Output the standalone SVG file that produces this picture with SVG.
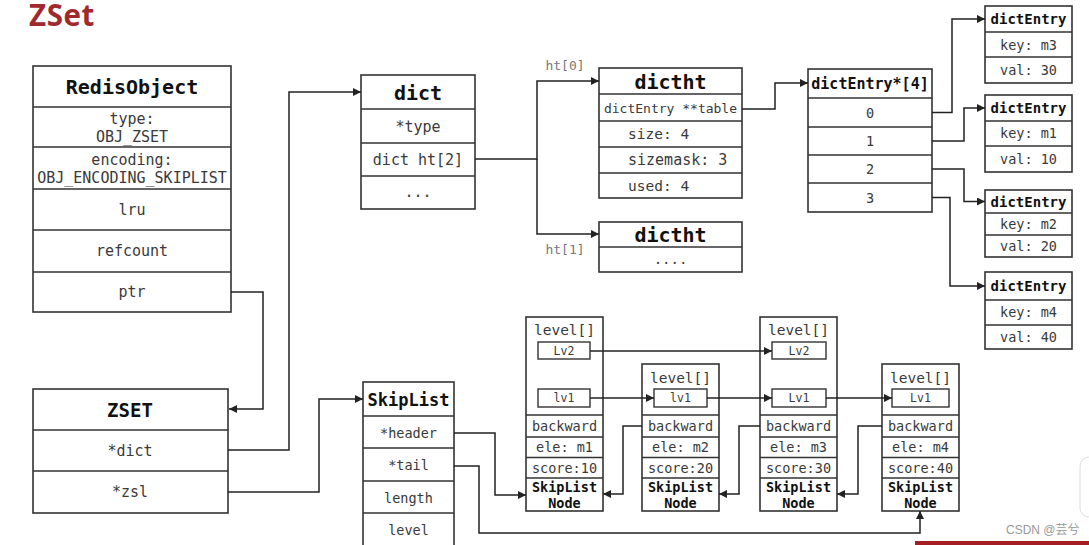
<svg xmlns="http://www.w3.org/2000/svg" width="1089" height="545" viewBox="0 0 1089 545">
<defs>
<marker id="arr" viewBox="0 0 8 8" refX="8" refY="4" markerWidth="8" markerHeight="8" markerUnits="userSpaceOnUse" orient="auto">
<path d="M0,0 L8,4 L0,8 z" fill="#222"/>
</marker>
<style>
.box{fill:#fff;stroke:#333;stroke-width:1.6}
.sep{stroke:#333;stroke-width:1.6;fill:none}
.lv{fill:#fff;stroke:#333;stroke-width:1.4}
.t{font-family:"DejaVu Sans Mono","Liberation Mono",monospace;fill:#3a3a3a;text-anchor:middle}
.l{font-family:"DejaVu Sans Mono","Liberation Mono",monospace;fill:#3a3a3a;text-anchor:start}
.h{font-family:"DejaVu Sans Mono","Liberation Mono",monospace;fill:#111;font-weight:bold;text-anchor:middle}
.c{fill:none;stroke:#222;stroke-width:1.5}
.g{font-family:"DejaVu Sans Mono","Liberation Mono",monospace;fill:#777;font-size:13px;text-anchor:middle}
</style>
</defs>
<rect width="1089" height="545" fill="#fff"/>
<text x="29" y="26" font-family="'Open Sans','Liberation Sans',sans-serif" font-weight="bold" font-size="29.5" letter-spacing="0.6" fill="#a0292d">ZSet</text>

<g id="redisobject">
<rect class="box" x="33" y="66" width="198" height="246"/>
<path class="sep" d="M33,107H231M33,147H231M33,189H231M33,230H231M33,272H231"/>
<text class="h" x="132" y="93.5" font-size="20">RedisObject</text>
<text class="t" x="132" y="124" font-size="15">type:</text>
<text class="t" x="132" y="141.5" font-size="15">OBJ_ZSET</text>
<text class="t" x="132" y="165" font-size="15">encoding:</text>
<text class="t" x="132" y="183" font-size="15">OBJ_ENCODING_SKIPLIST</text>
<text class="t" x="132" y="215" font-size="15">lru</text>
<text class="t" x="132" y="256" font-size="15">refcount</text>
<text class="t" x="132" y="297" font-size="15">ptr</text>
</g>

<g id="zset">
<rect class="box" x="33" y="389" width="195" height="124"/>
<path class="sep" d="M33,430H228M33,471H228"/>
<text class="h" x="130" y="417" font-size="19">ZSET</text>
<text class="t" x="130" y="456" font-size="15">*dict</text>
<text class="t" x="130" y="497" font-size="15">*zsl</text>
</g>

<g id="skiplist">
<rect class="box" x="363" y="382" width="91" height="190"/>
<path class="sep" d="M363,416H454M363,448H454M363,481H454M363,513H454"/>
<text class="h" x="408.5" y="406" font-size="17">SkipList</text>
<text class="t" x="408.5" y="437.5" font-size="13.5">*header</text>
<text class="t" x="408.5" y="470" font-size="13.5">*tail</text>
<text class="t" x="408.5" y="502.5" font-size="13.5">length</text>
<text class="t" x="408.5" y="534.5" font-size="13.5">level</text>
</g>

<g id="dict">
<rect class="box" x="361" y="75" width="114" height="134"/>
<path class="sep" d="M361,109H475M361,143H475M361,176H475"/>
<text class="h" x="418" y="99.5" font-size="20">dict</text>
<text class="t" x="418" y="132" font-size="15">*type</text>
<text class="t" x="418" y="164.5" font-size="15">dict ht[2]</text>
<text class="t" x="418" y="197" font-size="15">...</text>
</g>

<g id="dictht0">
<rect class="box" x="599" y="68" width="143" height="130"/>
<path class="sep" d="M599,94H742M599,121H742M599,147H742M599,173H742"/>
<text class="h" x="670.5" y="88.5" font-size="20">dictht</text>
<text class="t" x="670.5" y="112.5" font-size="13">dictEntry **table</text>
<text class="l" x="628" y="139" font-size="14.5">size: 4</text>
<text class="l" x="628" y="165" font-size="15">sizemask: 3</text>
<text class="l" x="628" y="191" font-size="14.5">used: 4</text>
</g>

<g id="dictht1">
<rect class="box" x="599" y="222" width="143" height="50"/>
<path class="sep" d="M599,247H742"/>
<text class="h" x="670.5" y="241.5" font-size="20">dictht</text>
<text class="t" x="670.5" y="264" font-size="14">....</text>
</g>

<g id="labels">
<text class="g" x="565" y="70">ht[0]</text>
<text class="g" x="565" y="254">ht[1]</text>
</g>

<g id="dictentryarray">
<rect class="box" x="808" y="69" width="124" height="143"/>
<path class="sep" d="M808,98H932M808,127H932M808,155H932M808,183H932"/>
<text class="h" x="870" y="89" font-size="15">dictEntry*[4]</text>
<text class="t" x="870" y="117.5" font-size="13.5">0</text>
<text class="t" x="870" y="146" font-size="13.5">1</text>
<text class="t" x="870" y="174" font-size="13.5">2</text>
<text class="t" x="870" y="202.5" font-size="13.5">3</text>
</g>

<g id="entry-m3">
<rect class="box" x="985" y="6" width="87" height="77"/>
<path class="sep" d="M985,32H1072M985,57H1072"/>
<text class="h" x="1028.5" y="24" font-size="14">dictEntry</text>
<text class="t" x="1028.5" y="50" font-size="13.5">key: m3</text>
<text class="t" x="1028.5" y="75" font-size="13.5">val: 30</text>
</g>
<g id="entry-m1">
<rect class="box" x="985" y="95" width="87" height="77"/>
<path class="sep" d="M985,121H1072M985,146H1072"/>
<text class="h" x="1028.5" y="113" font-size="14">dictEntry</text>
<text class="t" x="1028.5" y="138" font-size="13.5">key: m1</text>
<text class="t" x="1028.5" y="163.5" font-size="13.5">val: 10</text>
</g>
<g id="entry-m2">
<rect class="box" x="985" y="190" width="87" height="67"/>
<path class="sep" d="M985,213H1072M985,235H1072"/>
<text class="h" x="1028.5" y="206.5" font-size="14">dictEntry</text>
<text class="t" x="1028.5" y="228.5" font-size="13.5">key: m2</text>
<text class="t" x="1028.5" y="250.5" font-size="13.5">val: 20</text>
</g>
<g id="entry-m4">
<rect class="box" x="985" y="272" width="87" height="77"/>
<path class="sep" d="M985,300H1072M985,325H1072"/>
<text class="h" x="1028.5" y="291" font-size="14">dictEntry</text>
<text class="t" x="1028.5" y="317" font-size="13.5">key: m4</text>
<text class="t" x="1028.5" y="341.5" font-size="13.5">val: 40</text>
</g>

<g id="node-m1">
<rect class="box" x="526" y="317" width="77" height="194"/>
<path class="sep" d="M526,415H603M526,437H603M526,457.5H603M526,478H603"/>
<text class="t" x="564.5" y="335" font-size="14.5">level[]</text>
<rect class="lv" x="538" y="342" width="52" height="17"/>
<text class="t" x="564" y="354.5" font-size="11.5">Lv2</text>
<rect class="lv" x="538" y="389" width="52" height="18"/>
<text class="t" x="564" y="402" font-size="11.5">lv1</text>
<text class="t" x="564.5" y="430.5" font-size="13.5">backward</text>
<text class="t" x="564.5" y="452" font-size="13.5">ele: m1</text>
<text class="t" x="564.5" y="472.5" font-size="13.5">score:10</text>
<text class="h" x="564.5" y="491.5" font-size="13.5">SkipList</text>
<text class="h" x="564.5" y="507.5" font-size="13.5">Node</text>
</g>

<g id="node-m2">
<rect class="box" x="642" y="364" width="77" height="147"/>
<path class="sep" d="M642,415H719M642,437H719M642,457.5H719M642,478H719"/>
<text class="t" x="680.5" y="383" font-size="14.5">level[]</text>
<rect class="lv" x="654" y="389" width="53" height="18"/>
<text class="t" x="680.5" y="402" font-size="11.5">lv1</text>
<text class="t" x="680.5" y="430.5" font-size="13.5">backward</text>
<text class="t" x="680.5" y="452" font-size="13.5">ele: m2</text>
<text class="t" x="680.5" y="472.5" font-size="13.5">score:20</text>
<text class="h" x="680.5" y="491.5" font-size="13.5">SkipList</text>
<text class="h" x="680.5" y="507.5" font-size="13.5">Node</text>
</g>

<g id="node-m3">
<rect class="box" x="760" y="317" width="77" height="194"/>
<path class="sep" d="M760,415H837M760,437H837M760,457.5H837M760,478H837"/>
<text class="t" x="798.5" y="335" font-size="14.5">level[]</text>
<rect class="lv" x="772" y="342" width="54" height="17"/>
<text class="t" x="799" y="354.5" font-size="11.5">Lv2</text>
<rect class="lv" x="772" y="389" width="54" height="18"/>
<text class="t" x="799" y="402" font-size="11.5">Lv1</text>
<text class="t" x="798.5" y="430.5" font-size="13.5">backward</text>
<text class="t" x="798.5" y="452" font-size="13.5">ele: m3</text>
<text class="t" x="798.5" y="472.5" font-size="13.5">score:30</text>
<text class="h" x="798.5" y="491.5" font-size="13.5">SkipList</text>
<text class="h" x="798.5" y="507.5" font-size="13.5">Node</text>
</g>

<g id="node-m4">
<rect class="box" x="882" y="364" width="77" height="147"/>
<path class="sep" d="M882,415H959M882,437H959M882,457.5H959M882,478H959"/>
<text class="t" x="920.5" y="383" font-size="14.5">level[]</text>
<rect class="lv" x="892" y="389" width="57" height="18"/>
<text class="t" x="920.5" y="402" font-size="11.5">Lv1</text>
<text class="t" x="920.5" y="430.5" font-size="13.5">backward</text>
<text class="t" x="920.5" y="452" font-size="13.5">ele: m4</text>
<text class="t" x="920.5" y="472.5" font-size="13.5">score:40</text>
<text class="h" x="920.5" y="491.5" font-size="13.5">SkipList</text>
<text class="h" x="920.5" y="507.5" font-size="13.5">Node</text>
</g>

<g id="connectors">
<path class="c" d="M231,292H263V409H229" marker-end="url(#arr)"/>
<path class="c" d="M228,450H289V92H361" marker-end="url(#arr)"/>
<path class="c" d="M228,492H319V399H363" marker-end="url(#arr)"/>
<path class="c" d="M475,159H537V81H599" marker-end="url(#arr)"/>
<path class="c" d="M537,159V234H599" marker-end="url(#arr)"/>
<path class="c" d="M742,109H775V83H808" marker-end="url(#arr)"/>
<path class="c" d="M932,112.5H952V19H985" marker-end="url(#arr)"/>
<path class="c" d="M932,141H964V108H985" marker-end="url(#arr)"/>
<path class="c" d="M932,169H964V201.5H985" marker-end="url(#arr)"/>
<path class="c" d="M932,197.5H950V286H985" marker-end="url(#arr)"/>
<path class="c" d="M454,433H495V495H526" marker-end="url(#arr)"/>
<path class="c" d="M454,466H479V533H920V511" marker-end="url(#arr)"/>
<path class="c" d="M590,351H772" marker-end="url(#arr)"/>
<path class="c" d="M590,398H654" marker-end="url(#arr)"/>
<path class="c" d="M707,398H772" marker-end="url(#arr)"/>
<path class="c" d="M826,398H892" marker-end="url(#arr)"/>
<path class="c" d="M642,426H623V494H603" marker-end="url(#arr)"/>
<path class="c" d="M760,426H739V494H719" marker-end="url(#arr)"/>
<path class="c" d="M882,426H858V494H837" marker-end="url(#arr)"/>
</g>

<rect x="1080" y="457" width="30" height="60" rx="9" fill="#fff" stroke="#ddd" stroke-width="1"/>
<rect x="915" y="541" width="174" height="4" fill="#a31f24"/>
<text x="1006" y="534" font-family="'Liberation Sans','Noto Sans CJK SC',sans-serif" font-size="12" fill="#999">CSDN @芸兮</text>
</svg>
